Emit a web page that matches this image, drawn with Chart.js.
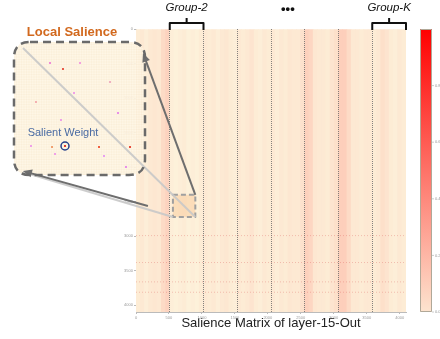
<!DOCTYPE html>
<html>
<head>
<meta charset="utf-8">
<script src="https://cdn.jsdelivr.net/npm/chart.js@4.4.1/dist/chart.umd.min.js"></script>
<style>
html, body { margin: 0; padding: 0; background: #fff; }
#wrap { width: 440px; height: 339px; }
</style>
</head>
<body>
<div id="wrap"><canvas id="chart" width="440" height="339"></canvas></div>
<script>
// matrix is 4096 x 4096, columns summarised in bins of 64
const matrixSize = 4096;
const binWidth = 64;

// mean salience per column bin
const columnSalience = [
    0.03, 0.04, 0.02, 0.04, 0.05, 0.04, 0.10, 0.13,
    0.02, 0.01, 0.02, 0.03, 0.01, 0.02, 0.01, 0.03,
    0.04, 0.03, 0.04, 0.02, 0.04, 0.05, 0.03, 0.02,
    0.04, 0.03, 0.04, 0.06, 0.03, 0.02, 0.04, 0.03,
    0.04, 0.02, 0.04, 0.03, 0.05, 0.04, 0.04, 0.07,
    0.14, 0.12, 0.05, 0.04, 0.04, 0.03, 0.06, 0.08,
    0.15, 0.15, 0.10, 0.04, 0.04, 0.03, 0.04, 0.04,
    0.03, 0.04, 0.08, 0.06, 0.03, 0.02, 0.04, 0.03
];

// rows with visible salient traces
const rowTraces = [2990, 3380, 3660, 3810];

// group boundaries (group size 512)
const groupBounds = [512, 1024, 1536, 2048, 2560, 3072, 3584];

const xTicks = [0, 500, 1000, 1500, 2000, 2500, 3000, 3500, 4000];
const yTicks = [0, 500, 1000, 1500, 2000, 2500, 3000, 3500, 4000];
const colorbarTicks = [0, 0.2, 0.4, 0.6, 0.8];

// zoomed region (matrix coords)
const zoomRegion = { x0: 560, x1: 900, y0: 2400, y1: 2720 };

const lowColor = [253, 243, 220];
const highColor = [255, 0, 0];

function salienceColor(v) {
    const c = lowColor.map((l, i) => Math.round(l + (highColor[i] - l) * v));
    return `rgb(${c[0]},${c[1]},${c[2]})`;
}

function roundRect(ctx, x, y, w, h, r) {
    ctx.beginPath();
    ctx.moveTo(x + r, y);
    ctx.lineTo(x + w - r, y);
    ctx.quadraticCurveTo(x + w, y, x + w, y + r);
    ctx.lineTo(x + w, y + h - r);
    ctx.quadraticCurveTo(x + w, y + h, x + w - r, y + h);
    ctx.lineTo(x + r, y + h);
    ctx.quadraticCurveTo(x, y + h, x, y + h - r);
    ctx.lineTo(x, y + r);
    ctx.quadraticCurveTo(x, y, x + r, y);
    ctx.closePath();
}

function arrow(ctx, x1, y1, x2, y2, color) {
    const a = Math.atan2(y2 - y1, x2 - x1);
    ctx.strokeStyle = color;
    ctx.fillStyle = color;
    ctx.lineWidth = 2;
    ctx.beginPath();
    ctx.moveTo(x1, y1);
    ctx.lineTo(x2 - 6 * Math.cos(a), y2 - 6 * Math.sin(a));
    ctx.stroke();
    ctx.beginPath();
    ctx.moveTo(x2, y2);
    ctx.lineTo(x2 - 9 * Math.cos(a) + 4 * Math.sin(a), y2 - 9 * Math.sin(a) - 4 * Math.cos(a));
    ctx.lineTo(x2 - 9 * Math.cos(a) - 4 * Math.sin(a), y2 - 9 * Math.sin(a) + 4 * Math.cos(a));
    ctx.closePath();
    ctx.fill();
}

function line(ctx, x1, y1, x2, y2, color, w) {
    ctx.strokeStyle = color;
    ctx.lineWidth = w;
    ctx.beginPath();
    ctx.moveTo(x1, y1);
    ctx.lineTo(x2, y2);
    ctx.stroke();
}

// dots seen in the magnified view (box-local pixels)
const insetDots = [
    [36, 21, '#f08cd8'], [49, 27, '#e85a4a'], [66, 21, '#f4a0e0'], [60, 51, '#f0a0e8'],
    [104, 71, '#e890e8'], [47, 78, '#f0a0e8'], [17, 104, '#f0a0e8'], [38, 105, '#f0a070'],
    [85, 105, '#f06040'], [116, 105, '#e84a3a'], [41, 112, '#f0a0e8'], [90, 114, '#e8a0f0'],
    [112, 125, '#e890e8'], [22, 60, '#f4b0b0'], [96, 40, '#f0b0c0']
];

const annotations = {
    id: 'annotations',
    afterDraw(chart) {
        const ctx = chart.ctx;
        const x = chart.scales.x, y = chart.scales.y;
        const area = chart.chartArea;
        ctx.save();

        // brackets + group labels
        const brackets = [[groupBounds[0], groupBounds[1], 'Group-2'], [groupBounds[6], matrixSize, 'Group-K']];
        ctx.lineJoin = 'round';
        const centers = [];
        brackets.forEach(([a, b, label]) => {
            const xa = x.getPixelForValue(a), xb = x.getPixelForValue(b);
            const xm = (xa + xb) / 2;
            centers.push(xm);
            ctx.strokeStyle = '#111';
            ctx.lineWidth = 2;
            ctx.beginPath();
            ctx.moveTo(xa, area.top + 1);
            ctx.lineTo(xa, area.top - 6);
            ctx.lineTo(xb, area.top - 6);
            ctx.lineTo(xb, area.top + 1);
            ctx.moveTo(xm, area.top - 6);
            ctx.lineTo(xm, area.top - 11);
            ctx.stroke();
            ctx.fillStyle = '#111';
            ctx.font = 'italic 11.5px "Liberation Sans", Arial, sans-serif';
            ctx.textAlign = 'center';
            ctx.textBaseline = 'middle';
            ctx.fillText(label, xm, 8);
        });
        ctx.font = 'bold 13px "Liberation Sans", Arial, sans-serif';
        ctx.fillText('\u2022\u2022\u2022', (centers[0] + centers[1]) / 2, 9);

        // small zoom box in the matrix
        const sx0 = x.getPixelForValue(zoomRegion.x0), sx1 = x.getPixelForValue(zoomRegion.x1);
        const sy0 = y.getPixelForValue(zoomRegion.y0), sy1 = y.getPixelForValue(zoomRegion.y1);
        ctx.fillStyle = 'rgba(250,205,160,0.55)';
        ctx.fillRect(sx0, sy0, sx1 - sx0, sy1 - sy0);
        ctx.setLineDash([5, 3]);
        ctx.strokeStyle = '#a0a0a0';
        ctx.lineWidth = 2;
        ctx.strokeRect(sx0, sy0, sx1 - sx0, sy1 - sy0);
        ctx.setLineDash([]);

        // magnified box
        const bx = 14, by = 42, bw = 131, bh = 133;
        roundRect(ctx, bx, by, bw, bh, 16);
        ctx.fillStyle = 'rgba(254,245,228,0.93)';
        ctx.fill();
        ctx.save();
        ctx.clip();
        for (let gx = bx; gx < bx + bw; gx += 2.5) line(ctx, gx, by, gx, by + bh, 'rgba(240,215,180,0.3)', 0.5);
        for (let gy = by; gy < by + bh; gy += 2.5) line(ctx, bx, gy, bx + bw, gy, 'rgba(240,215,180,0.3)', 0.5);
        insetDots.forEach(([dx, dy, c]) => {
            ctx.fillStyle = c;
            ctx.fillRect(bx + dx - 1, by + dy - 1, 2, 2);
        });
        ctx.restore();

        // connector lines
        const blx = bx + 9, bly = by + bh - 3;
        line(ctx, sx1, sy1, bx + 9, by + 6, 'rgba(200,200,200,0.9)', 2);
        line(ctx, sx0, sy1, blx, bly, 'rgba(200,200,200,0.9)', 2);
        arrow(ctx, sx1, sy0, bx + bw - 2, by + 11, '#6e6e6e');
        arrow(ctx, sx0 - 25, sy1 - 11, blx, bly - 1, '#6e6e6e');

        // dashed outline on top
        roundRect(ctx, bx, by, bw, bh, 16);
        ctx.setLineDash([8, 5]);
        ctx.strokeStyle = '#6a6a6a';
        ctx.lineWidth = 2.5;
        ctx.stroke();
        ctx.setLineDash([]);

        // labels
        ctx.fillStyle = '#d2691e';
        ctx.font = 'bold 13px "Liberation Sans", Arial, sans-serif';
        ctx.textAlign = 'center';
        ctx.fillText('Local Salience', 72, 32);
        ctx.fillStyle = '#4a6ba3';
        ctx.font = '11px "Liberation Sans", Arial, sans-serif';
        ctx.fillText('Salient Weight', 63, 133);
        ctx.strokeStyle = '#27408b';
        ctx.lineWidth = 1.5;
        ctx.beginPath();
        ctx.arc(65, 146, 4, 0, Math.PI * 2);
        ctx.stroke();
        ctx.fillStyle = '#e23a2a';
        ctx.fillRect(64, 145, 2, 2);

        // colorbar
        const cx = 420, cw = 12;
        const grad = ctx.createLinearGradient(0, area.bottom, 0, area.top);
        grad.addColorStop(0, salienceColor(0.06));
        grad.addColorStop(1, salienceColor(1));
        ctx.fillStyle = grad;
        ctx.fillRect(cx, area.top, cw, area.bottom - area.top);
        ctx.strokeStyle = '#b0a898';
        ctx.lineWidth = 1;
        ctx.strokeRect(cx + 0.5, area.top + 0.5, cw - 1, area.bottom - area.top - 1);
        ctx.fillStyle = '#999';
        ctx.font = '4px "Liberation Sans", Arial, sans-serif';
        ctx.textAlign = 'left';
        colorbarTicks.forEach(v => {
            const ty = area.bottom - v * (area.bottom - area.top);
            line(ctx, cx + cw, ty, cx + cw + 2, ty, '#999', 0.5);
            ctx.fillText(v.toFixed(1), cx + cw + 3, ty);
        });

        ctx.restore();
    }
};

const datasets = [
    {
        type: 'bar',
        data: columnSalience.map((v, i) => ({ x: i * binWidth + binWidth / 2, y: [0, matrixSize] })),
        backgroundColor: columnSalience.map(salienceColor),
        borderWidth: 0,
        barPercentage: 1,
        categoryPercentage: 1,
        grouped: false,
        order: 2
    }
];
rowTraces.forEach(r => {
    datasets.push({
        type: 'line',
        data: [{ x: 0, y: r }, { x: matrixSize, y: r }],
        borderColor: 'rgba(215,80,80,0.38)',
        borderWidth: 0.8,
        borderDash: [1, 2],
        pointRadius: 0,
        order: 1
    });
});

const plainTick = v => String(v);

new Chart(document.getElementById('chart'), {
    data: { datasets },
    options: {
        responsive: false,
        animation: false,
        devicePixelRatio: 1,
        layout: { padding: { left: 114, right: 34, top: 29, bottom: 0 } },
        plugins: { legend: { display: false }, tooltip: { enabled: false } },
        scales: {
            x: {
                type: 'linear', min: 0, max: matrixSize, position: 'bottom', offset: false,
                afterBuildTicks: s => { s.ticks = xTicks.map(v => ({ value: v })); },
                afterFit: s => { s.height = 27; },
                ticks: { font: { size: 4 }, color: '#999', maxRotation: 0, padding: 1, callback: plainTick },
                grid: { drawOnChartArea: false, tickLength: 2, color: '#bbb', offset: false },
                border: { color: '#bbb' },
                title: {
                    display: true, text: 'Salience Matrix of layer-15-Out', color: '#222',
                    font: { size: 13, family: '"Liberation Sans", Arial, sans-serif' },
                    padding: { top: 0, bottom: 8 }
                }
            },
            groups: {
                type: 'linear', axis: 'x', min: 0, max: matrixSize, position: 'top', offset: false,
                afterBuildTicks: s => { s.ticks = groupBounds.map(v => ({ value: v })); },
                afterFit: s => { s.height = 0; },
                ticks: { display: false },
                grid: { drawOnChartArea: true, drawTicks: false, color: '#666', lineWidth: 0.8, offset: false, z: 1 },
                border: { display: false, dash: [1, 1] }
            },
            y: {
                type: 'linear', min: 0, max: matrixSize, reverse: true,
                afterBuildTicks: s => { s.ticks = yTicks.map(v => ({ value: v })); },
                afterFit: s => { s.width = 22; },
                ticks: { font: { size: 4 }, color: '#999', padding: 1, callback: plainTick },
                grid: { drawOnChartArea: false, tickLength: 2, color: '#bbb' },
                border: { color: '#bbb' }
            }
        }
    },
    plugins: [annotations]
});
</script>
</body>
</html>
